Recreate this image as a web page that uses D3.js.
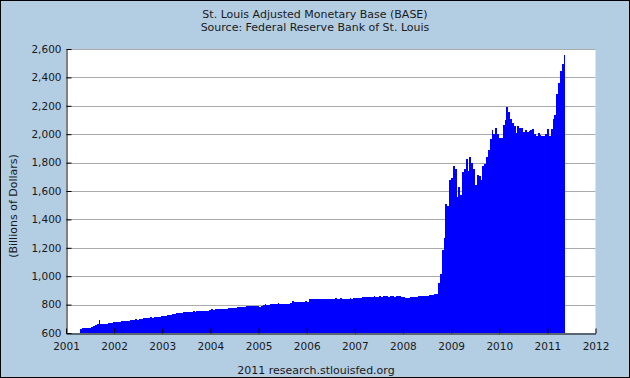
<!DOCTYPE html>
<html>
<head>
<meta charset="utf-8">
<script src="https://cdn.jsdelivr.net/npm/d3@7"></script>
<style>
  html, body { margin: 0; padding: 0; background: #b3cde3; }
  svg { display: block; }
  text { font-family: "DejaVu Sans", Verdana, sans-serif; fill: #1a1a1a; }
</style>
</head>
<body>
<svg id="chart" width="630" height="378"></svg>
<script>
// ---- Data (biweekly, billions of dollars) ----
const startDate = "2001-04-18";   // first biweekly observation
const periodDays = 14;
const base2001 = [628,632,635,632,634,638,644,649,655,661,691,663,663,661,665,668,670,672,675];
const base2002 = [675,678,680,682,684,685,687,686,689,692,694,696,695,698,700,703,706,704,708,713,706,710,712,713,716,718];
const base2003 = [720,722,724,727,730,734,736,739,740,741,743,745,745,746,750,748,754,750,752,754,752,754,755,756,757,760,768];
const base2004 = [765,768,769,767,766,768,770,772,775,776,778,777,779,781,783,784,783,786,791,787,790,791,788,792,790,784];
const base2005 = [790,800,801,798,800,803,805,806,807,808,806,806,807,806,806,807,813,825,815,818,820,820,820,821,822,820];
const base2006 = [836,840,838,841,837,840,838,840,842,841,840,842,838,840,843,842,841,843,840,842,838,840,843,842,845,846];
const base2007 = [846,848,850,851,853,855,852,854,856,858,856,857,860,856,858,860,862,856,858,861,857,860,858,860,856,852];
const base2008 = [848,846,850,852,854,856,855,858,860,858,862,860,863,865,866,868,872,875,950,1015,1184,1269,1508,1494,1677,1691,1776];
const base2009 = [1755,1560,1628,1572,1733,1755,1825,1740,1839,1797,1755,1642,1712,1705,1677,1776,1790,1839,1888,1966,2029,2001,2043,2001,1973,1973];
const base2010 = [2064,2100,2191,2156,2107,2078,2057,2008,2057,2043,2043,2015,2029,2015,2022,2029,2036,2001,1987,2008,1995,1987,1987,2001,2036,1987];
const base2011 = [2036,2107,2135,2283,2360,2445,2494,2557];

const yTicks = [600,800,1000,1200,1400,1600,1800,2000,2200,2400,2600];
const xTickYears = [2001,2002,2003,2004,2005,2006,2007,2008,2009,2010,2011,2012];

const titleLines = ["St. Louis Adjusted Monetary Base (BASE)", "Source: Federal Reserve Bank of St. Louis"];
const yTitle = "(Billions of Dollars)";
const footer = "2011 research.stlouisfed.org";

// ---- Build series ----
const values = [].concat(base2001, base2002, base2003, base2004, base2005, base2006,
                         base2007, base2008, base2009, base2010, base2011);
const t0 = d3.timeParse("%Y-%m-%d")(startDate);
const data = values.map((v, i) => ({
  start: d3.timeDay.offset(t0, i * periodDays),
  end: d3.timeDay.offset(t0, (i + 1) * periodDays),
  value: v
}));

// ---- Layout ----
const W = 630, H = 378;
const plot = { left: 66, right: 595.5, top: 49, bottom: 333 };
const svg = d3.select("#chart");

svg.append("rect").attr("x", 0).attr("y", 0).attr("width", W).attr("height", H).attr("fill", "#b3cde3");
svg.append("rect").attr("x", 0.5).attr("y", 0.5).attr("width", W - 1).attr("height", H - 1)
  .attr("fill", "none").attr("stroke", "#000").attr("stroke-width", 1);

const x = d3.scaleTime()
  .domain([new Date(2001, 0, 1), new Date(2012, 0, 1)])
  .range([plot.left, plot.right]);
const y = d3.scaleLinear().domain([600, 2600]).range([plot.bottom, plot.top]);

// plot background
svg.append("rect").attr("x", plot.left).attr("y", plot.top)
  .attr("width", plot.right - plot.left).attr("height", plot.bottom - plot.top)
  .attr("fill", "#ffffff");

// gridlines
svg.append("g").selectAll("line").data(yTicks.filter(d => d > 600)).join("line")
  .attr("x1", plot.left).attr("x2", plot.right)
  .attr("y1", d => Math.round(y(d)) + 0.5).attr("y2", d => Math.round(y(d)) + 0.5)
  .attr("stroke", "#aaaaaa").attr("stroke-width", 1);

// bars
svg.append("g").attr("shape-rendering", "crispEdges").selectAll("rect").data(data).join("rect")
  .attr("x", d => Math.round(x(d.start)))
  .attr("width", d => Math.round(x(d.end)) - Math.round(x(d.start)))
  .attr("y", d => Math.round(y(d.value)))
  .attr("height", d => plot.bottom - Math.round(y(d.value)))
  .attr("fill", "#0000ff");

// y axis
const yAxis = d3.axisLeft(y).tickValues(yTicks).tickFormat(d3.format(","))
  .tickSizeInner(-5).tickSizeOuter(0).tickPadding(5);
const gy = svg.append("g").attr("transform", `translate(${plot.left + 0.5},0)`).call(yAxis);
gy.select(".domain").attr("stroke", "#000");
gy.selectAll(".tick line").attr("stroke", "#000");
gy.selectAll(".tick text").style("font-size", "10.5px").attr("fill", "#1a1a1a");

// x axis
const xAxis = d3.axisBottom(x).tickValues(xTickYears.map(yr => new Date(yr, 0, 1)))
  .tickFormat(d3.timeFormat("%Y")).tickSizeInner(-5).tickSizeOuter(0).tickPadding(9);
const gx = svg.append("g").attr("transform", `translate(0,${plot.bottom + 0.5})`).call(xAxis);
gx.select(".domain").attr("stroke", "#000");
gx.selectAll(".tick line").attr("stroke", "#000");
gx.selectAll(".tick text").style("font-size", "10.5px").attr("fill", "#1a1a1a");
svg.selectAll(".tick text").style("font-family", "'DejaVu Sans', Verdana, sans-serif");

// titles
svg.append("text").attr("x", 315).attr("y", 17.5).attr("text-anchor", "middle")
  .style("font-size", "11px").text(titleLines[0]);
svg.append("text").attr("x", 315).attr("y", 30.5).attr("text-anchor", "middle")
  .style("font-size", "11px").text(titleLines[1]);

// y title
svg.append("text").attr("transform", "translate(17,206) rotate(-90)").attr("text-anchor", "middle")
  .style("font-size", "11px").text(yTitle);

// footer
svg.append("text").attr("x", 316).attr("y", 374).attr("text-anchor", "middle")
  .style("font-size", "11px").text(footer);
</script>
</body>
</html>
